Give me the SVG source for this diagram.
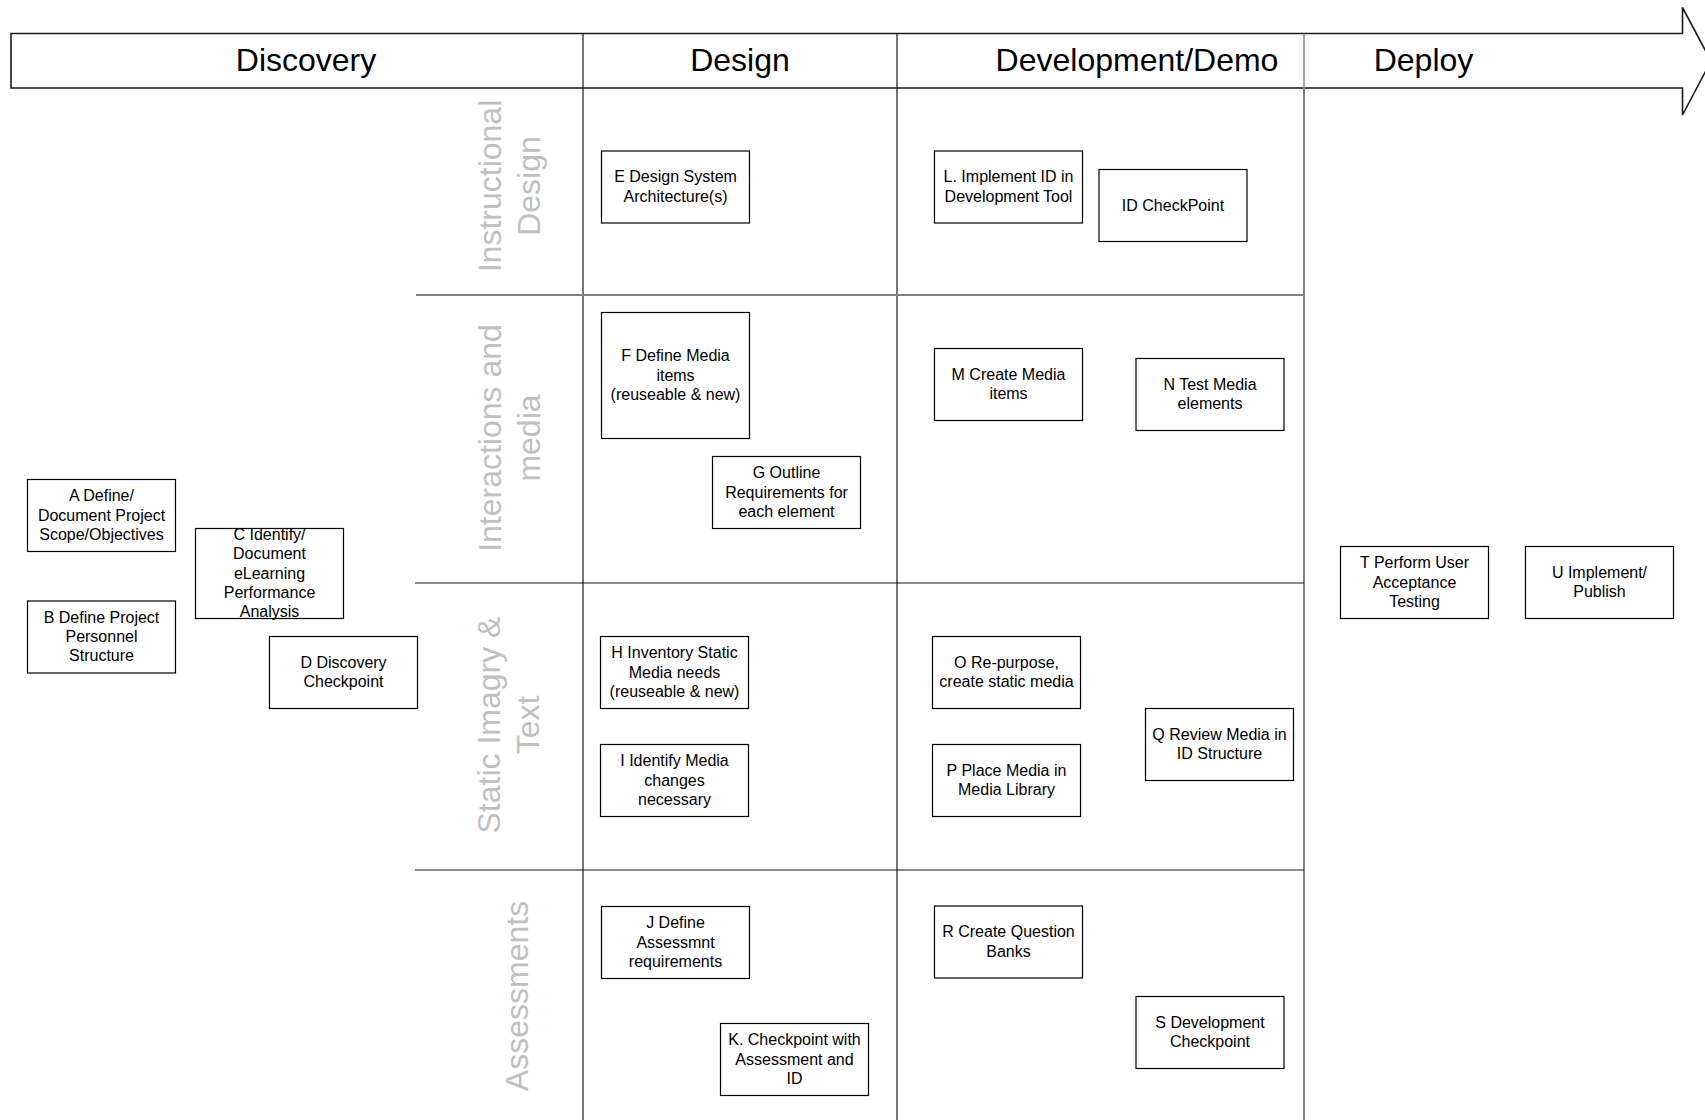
<svg xmlns="http://www.w3.org/2000/svg" width="1705" height="1120" viewBox="0 0 1705 1120">
<style>
  .bg { fill: #ffffff; }
  .box { fill: #ffffff; stroke: #000000; stroke-width: 1.2; }
  .lbl { font-family: "Liberation Sans", Arial, sans-serif; font-size: 16px; fill: #000000; text-anchor: middle; }
  .phase { font-family: "Liberation Sans", Arial, sans-serif; font-size: 32px; fill: #000000; text-anchor: middle; }
  .lane { font-family: "Liberation Sans", Arial, sans-serif; font-size: 32px; fill: #c0c0c0; text-anchor: middle; }
  .hdr { fill: #ffffff; stroke: #1a1a1a; stroke-width: 1.6; }
  .dk { stroke: #1a1a1a; stroke-width: 1.2; fill: none; }
  .gr { stroke: #808080; stroke-width: 2; fill: none; }
</style>
<rect class="bg" x="0" y="0" width="1705" height="1120"/>

<g id="header">
  <path class="hdr" d="M11,33.5 H1682.5 V7.5 L1711,61 L1682.5,115 V88 H11 Z"/>
  <line class="dk" x1="583" y1="33.5" x2="583" y2="88"/>
  <line class="dk" x1="897" y1="33.5" x2="897" y2="88"/>
  <line class="gr" x1="1304" y1="33.5" x2="1304" y2="88" style="stroke-width:1.4"/>
  <text class="phase" x="306" y="71">Discovery</text>
  <text class="phase" x="740" y="71">Design</text>
  <text class="phase" x="1137" y="71">Development/Demo</text>
  <text class="phase" x="1423.5" y="71">Deploy</text>
</g>

<g id="grid">
  <line class="dk" x1="583" y1="88" x2="583" y2="1120"/>
  <line class="dk" x1="897" y1="88" x2="897" y2="1120"/>
  <line class="gr" x1="1304" y1="88" x2="1304" y2="1120"/>
  <line class="gr" x1="416" y1="295" x2="1304" y2="295"/>
  <line class="dk" x1="415" y1="583" x2="1304" y2="583"/>
  <line class="dk" x1="415" y1="870" x2="1304" y2="870"/>
</g>

<g id="lane-labels">
  <text class="lane" transform="rotate(-90 501 186)" x="501" y="186">Instructional</text>
  <text class="lane" transform="rotate(-90 539.5 186)" x="539.5" y="186">Design</text>
  <text class="lane" transform="rotate(-90 501 438)" x="501" y="438">Interactions and</text>
  <text class="lane" transform="rotate(-90 539.5 438)" x="539.5" y="438">media</text>
  <text class="lane" transform="rotate(-90 500 725)" x="500" y="725">Static Imagry &amp;</text>
  <text class="lane" transform="rotate(-90 538.5 725)" x="538.5" y="725">Text</text>
  <text class="lane" transform="rotate(-90 528 996)" x="528" y="996">Assessments</text>
</g>

<g id="connectors"></g>

<g id="node-A">
  <rect class="box" x="27.5" y="479.5" width="148" height="72"/>
  <text class="lbl"><tspan x="101.5" y="501.3">A Define/</tspan><tspan x="101.5" y="520.5">Document Project</tspan><tspan x="101.5" y="539.7">Scope/Objectives</tspan></text>
</g>
<g id="node-B">
  <rect class="box" x="27.5" y="601" width="148" height="72"/>
  <text class="lbl"><tspan x="101.5" y="622.8">B Define Project</tspan><tspan x="101.5" y="642">Personnel</tspan><tspan x="101.5" y="661.2">Structure</tspan></text>
</g>
<g id="node-C">
  <rect class="box" x="195.5" y="528.5" width="148" height="90"/>
  <text class="lbl"><tspan x="269.5" y="540.1">C Identify/</tspan><tspan x="269.5" y="559.3">Document</tspan><tspan x="269.5" y="578.5">eLearning</tspan><tspan x="269.5" y="597.7">Performance</tspan><tspan x="269.5" y="616.9">Analysis</tspan></text>
</g>
<g id="node-D">
  <rect class="box" x="269.5" y="636.5" width="148" height="72"/>
  <text class="lbl"><tspan x="343.5" y="667.9">D Discovery</tspan><tspan x="343.5" y="687.1">Checkpoint</tspan></text>
</g>
<g id="node-E">
  <rect class="box" x="601.5" y="151" width="148" height="72"/>
  <text class="lbl"><tspan x="675.5" y="182.4">E Design System</tspan><tspan x="675.5" y="201.6">Architecture(s)</tspan></text>
</g>
<g id="node-F">
  <rect class="box" x="601.5" y="312.5" width="148" height="126"/>
  <text class="lbl"><tspan x="675.5" y="361.3">F Define Media</tspan><tspan x="675.5" y="380.5">items</tspan><tspan x="675.5" y="399.7">(reuseable &amp; new)</tspan></text>
</g>
<g id="node-G">
  <rect class="box" x="712.5" y="456.5" width="148" height="72"/>
  <text class="lbl"><tspan x="786.5" y="478.3">G Outline</tspan><tspan x="786.5" y="497.5">Requirements for</tspan><tspan x="786.5" y="516.7">each element</tspan></text>
</g>
<g id="node-H">
  <rect class="box" x="600.5" y="636.5" width="148" height="72"/>
  <text class="lbl"><tspan x="674.5" y="658.3">H Inventory Static</tspan><tspan x="674.5" y="677.5">Media needs</tspan><tspan x="674.5" y="696.7">(reuseable &amp; new)</tspan></text>
</g>
<g id="node-I">
  <rect class="box" x="600.5" y="744.5" width="148" height="72"/>
  <text class="lbl"><tspan x="674.5" y="766.3">I Identify Media</tspan><tspan x="674.5" y="785.5">changes</tspan><tspan x="674.5" y="804.7">necessary</tspan></text>
</g>
<g id="node-J">
  <rect class="box" x="601.5" y="906.5" width="148" height="72"/>
  <text class="lbl"><tspan x="675.5" y="928.3">J Define</tspan><tspan x="675.5" y="947.5">Assessmnt</tspan><tspan x="675.5" y="966.7">requirements</tspan></text>
</g>
<g id="node-K">
  <rect class="box" x="720.5" y="1023.5" width="148" height="72"/>
  <text class="lbl"><tspan x="794.5" y="1045.3">K. Checkpoint with</tspan><tspan x="794.5" y="1064.5">Assessment and</tspan><tspan x="794.5" y="1083.7">ID</tspan></text>
</g>
<g id="node-L">
  <rect class="box" x="934.5" y="151" width="148" height="72"/>
  <text class="lbl"><tspan x="1008.5" y="182.4">L. Implement ID in</tspan><tspan x="1008.5" y="201.6">Development Tool</tspan></text>
</g>
<g id="node-IDCP">
  <rect class="box" x="1099" y="169.5" width="148" height="72"/>
  <text class="lbl"><tspan x="1173" y="210.5">ID CheckPoint</tspan></text>
</g>
<g id="node-M">
  <rect class="box" x="934.5" y="348.5" width="148" height="72"/>
  <text class="lbl"><tspan x="1008.5" y="379.9">M Create Media</tspan><tspan x="1008.5" y="399.1">items</tspan></text>
</g>
<g id="node-N">
  <rect class="box" x="1136" y="358.5" width="148" height="72"/>
  <text class="lbl"><tspan x="1210" y="389.9">N Test Media</tspan><tspan x="1210" y="409.1">elements</tspan></text>
</g>
<g id="node-O">
  <rect class="box" x="932.5" y="636.5" width="148" height="72"/>
  <text class="lbl"><tspan x="1006.5" y="667.9">O Re-purpose,</tspan><tspan x="1006.5" y="687.1">create static media</tspan></text>
</g>
<g id="node-P">
  <rect class="box" x="932.5" y="744.5" width="148" height="72"/>
  <text class="lbl"><tspan x="1006.5" y="775.9">P Place Media in</tspan><tspan x="1006.5" y="795.1">Media Library</tspan></text>
</g>
<g id="node-Q">
  <rect class="box" x="1145.5" y="708.5" width="148" height="72"/>
  <text class="lbl"><tspan x="1219.5" y="739.9">Q Review Media in</tspan><tspan x="1219.5" y="759.1">ID Structure</tspan></text>
</g>
<g id="node-R">
  <rect class="box" x="934.5" y="906" width="148" height="72"/>
  <text class="lbl"><tspan x="1008.5" y="937.4">R Create Question</tspan><tspan x="1008.5" y="956.6">Banks</tspan></text>
</g>
<g id="node-S">
  <rect class="box" x="1136" y="996.5" width="148" height="72"/>
  <text class="lbl"><tspan x="1210" y="1027.9">S Development</tspan><tspan x="1210" y="1047.1">Checkpoint</tspan></text>
</g>
<g id="node-T">
  <rect class="box" x="1340.5" y="546.5" width="148" height="72"/>
  <text class="lbl"><tspan x="1414.5" y="568.3">T Perform User</tspan><tspan x="1414.5" y="587.5">Acceptance</tspan><tspan x="1414.5" y="606.7">Testing</tspan></text>
</g>
<g id="node-U">
  <rect class="box" x="1525.5" y="546.5" width="148" height="72"/>
  <text class="lbl"><tspan x="1599.5" y="577.9">U Implement/</tspan><tspan x="1599.5" y="597.1">Publish</tspan></text>
</g>
</svg>
